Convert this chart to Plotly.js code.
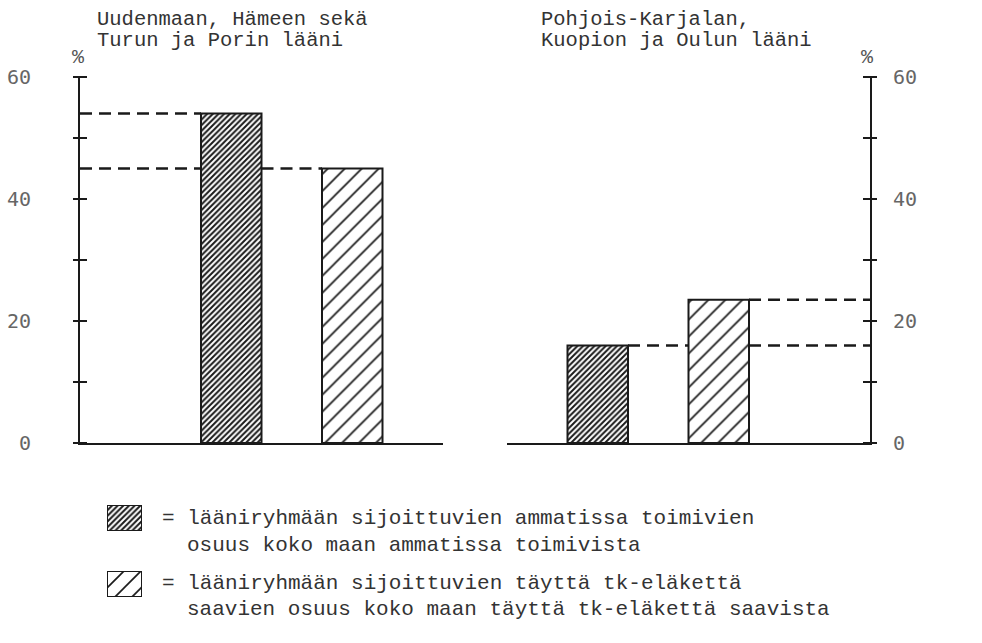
<!DOCTYPE html>
<html>
<head>
<meta charset="utf-8">
<script src="https://cdn.plot.ly/plotly-3.0.1.min.js"></script>
<style>html,body{margin:0;padding:0;background:#fff;}</style>
</head>
<body>
<div id="chart" style="width:982px;height:643px;"></div>
<script>
// ---- data ----
const groupTitlesLeft = ["Uudenmaan, Hämeen sekä", "Turun ja Porin lääni"];
const groupTitlesRight = ["Pohjois-Karjalan,", "Kuopion ja Oulun lääni"];
const workersShare = [54, 16];     // dark hatch: share of employed persons (%)
const pensionShare = [45, 23.5];   // light hatch: share of full disability pension recipients (%)
const yTickVals = [0, 10, 20, 30, 40, 50, 60];
const yTickText = ["0", "", "20", "", "40", "", "60"];
const legendLines1 = ["= lääniryhmään sijoittuvien ammatissa toimivien", "osuus koko maan ammatissa toimivista"];
const legendLines2 = ["= lääniryhmään sijoittuvien täyttä tk-eläkettä", "saavien osuus koko maan täyttä tk-eläkettä saavista"];
const unitLabel = "%";

// ---- layout geometry helpers (pixel -> paper) ----
const W = 982, H = 643;
const M = {l: 80, r: 112, t: 77, b: 23};
const PW = W - M.l - M.r, PH = H - M.t - M.b;
const px = X => (X - M.l) / PW;
const py = Y => (H - M.b - Y) / PH;

const INK = "#1a1a1a";
const mono = "Liberation Mono, Courier New, monospace";
const tickFont = {family: "DejaVu Sans Mono, monospace", size: 20, color: "#666"};

const darkPattern = {shape: "/", size: 4, solidity: 0.5, fgcolor: INK, bgcolor: "white"};
const lightPattern = {shape: "/", size: 12, solidity: 0.14, fgcolor: INK, bgcolor: "white"};

const barW = 1;
const leftPos = [2.5, 4.5];   // dark, light in left panel
const rightPos = [1.5, 3.5];  // dark, light in right panel
const xMax = 6;

function bar(xpos, val, pat, xa, ya) {
  return {type: "bar", x: [xpos], y: [val], width: barW, xaxis: xa, yaxis: ya,
    marker: {color: "white", pattern: pat, line: {color: INK, width: 2}},
    hoverinfo: "skip", showlegend: false, cliponaxis: false};
}
function dashed(xs, val, xa, ya) {
  const ys = xs.map(x => x === null ? null : val);
  return {type: "scatter", mode: "lines", x: xs, y: ys, xaxis: xa, yaxis: ya,
    line: {color: INK, width: 2.5, dash: "12px,7px"}, hoverinfo: "skip", showlegend: false, connectgaps: false};
}
// tick marks that cross the axis line (short horizontal strokes centred on the axis)
function crossTicks(xAt, xa, ya) {
  return {type: "scatter", mode: "markers", x: yTickVals.map(() => xAt), y: yTickVals, xaxis: xa, yaxis: ya,
    marker: {symbol: "line-ew", size: 10, color: INK, line: {width: 2, color: INK}},
    cliponaxis: false, hoverinfo: "skip", showlegend: false};
}

const traces = [];
// dashed reference lines (drawn as segments that stop at bar edges)
traces.push(dashed([0, leftPos[0] - barW / 2], workersShare[0], "x", "y"));
traces.push(dashed([0, leftPos[0] - barW / 2, null, leftPos[0] + barW / 2, leftPos[1] - barW / 2], pensionShare[0], "x", "y"));
traces.push(dashed([rightPos[0] + barW / 2, rightPos[1] - barW / 2, null, rightPos[1] + barW / 2, xMax], workersShare[1], "x2", "y2"));
traces.push(dashed([rightPos[1] + barW / 2, xMax], pensionShare[1], "x2", "y2"));
// bars
traces.push(bar(leftPos[0], workersShare[0], darkPattern, "x", "y"));
traces.push(bar(leftPos[1], pensionShare[0], lightPattern, "x", "y"));
traces.push(bar(rightPos[0], workersShare[1], darkPattern, "x2", "y2"));
traces.push(bar(rightPos[1], pensionShare[1], lightPattern, "x2", "y2"));
// legend keys
traces.push(bar(0, 1, darkPattern, "x3", "y3"));
traces.push(bar(0, 1, lightPattern, "x4", "y4"));
// crossing tick marks on both value axes
traces.push(crossTicks(0, "x", "y"));
traces.push(crossTicks(xMax, "x2", "y2"));

const yMainDomain = [py(443), 1];
const leftDomain = [0, px(443)], rightDomain = [px(507), 1];
const baseY = {type: "linear", range: [0, 60], tickmode: "array", tickvals: yTickVals, ticktext: yTickText,
  showgrid: false, zeroline: false,
  showline: true, linecolor: INK, linewidth: 2, ticks: "outside", ticklen: 5, tickwidth: 2, tickcolor: INK,
  tickfont: tickFont, domain: yMainDomain, fixedrange: true};
const baseX = {type: "linear", range: [0, xMax], showgrid: false, zeroline: false, showticklabels: false, ticks: "",
  showline: true, linecolor: INK, linewidth: 2, fixedrange: true};
const hidden = {visible: false, fixedrange: true};

const layout = {
  width: W, height: H, margin: M, paper_bgcolor: "white", plot_bgcolor: "rgba(0,0,0,0)",
  showlegend: false, bargap: 0,
  xaxis: Object.assign({}, baseX, {domain: leftDomain, anchor: "y"}),
  xaxis2: Object.assign({}, baseX, {domain: rightDomain, anchor: "y2"}),
  yaxis: Object.assign({}, baseY, {anchor: "x", side: "left", ticklabelstandoff: 38}),
  yaxis2: Object.assign({}, baseY, {anchor: "x2", side: "right", ticklabelstandoff: 12}),
  xaxis3: Object.assign({}, hidden, {domain: [px(107), px(142)], range: [-0.5, 0.5], anchor: "y3"}),
  yaxis3: Object.assign({}, hidden, {domain: [py(531), py(505)], range: [0, 1], anchor: "x3"}),
  xaxis4: Object.assign({}, hidden, {domain: [px(107), px(142)], range: [-0.5, 0.5], anchor: "y4"}),
  yaxis4: Object.assign({}, hidden, {domain: [py(597), py(571)], range: [0, 1], anchor: "x4"}),
  annotations: []
};

function note(text, X, Y, size, color, family, xanchor) {
  layout.annotations.push({text: text, xref: "paper", yref: "paper", x: px(X), y: py(Y),
    xanchor: xanchor || "left", yanchor: "middle", showarrow: false,
    font: {family: family || mono, size: size || 21, color: color || "#333"}});
}
note(groupTitlesLeft[0], 95, 19, 20.5);
note(groupTitlesLeft[1], 95, 41, 20.5);
note(groupTitlesRight[0], 539, 19, 20.5);
note(groupTitlesRight[1], 539, 41, 20.5);
note(unitLabel, 78, 58, 20, "#555", mono, "center");
note(unitLabel, 867, 58, 20, "#555", mono, "center");
note(legendLines1[0], 160, 518, 21);
note(legendLines1[1], 185, 545, 21);
note(legendLines2[0], 160, 583, 21);
note(legendLines2[1], 185, 609, 21);

Plotly.newPlot("chart", traces, layout, {staticPlot: true, displayModeBar: false});
</script>
</body>
</html>
